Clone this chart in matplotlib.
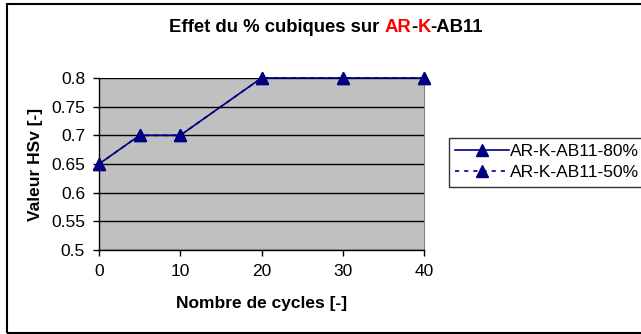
import matplotlib.pyplot as plt
from matplotlib.patches import Rectangle

plt.rcParams['font.family'] = ['Liberation Sans', 'DejaVu Sans']

# Nombre de cycles et valeurs HSv
cycles = [0, 5, 10, 20, 30, 40]
hsv_80 = [0.65, 0.70, 0.70, 0.80, 0.80, 0.80]
hsv_50 = [0.65, 0.70, 0.70, 0.80, 0.80, 0.80]
labels = ['AR-K-AB11-80%', 'AR-K-AB11-50%']
yticks = [0.5, 0.55, 0.6, 0.65, 0.7, 0.75, 0.8]
xticks = [0, 10, 20, 30, 40]

navy = '#000080'
fs = 12.5

fig = plt.figure(figsize=(6.41, 3.34), dpi=100)
ax = fig.add_axes([99 / 641, 1 - 250 / 334, 325 / 641, 172 / 334])
ax.set_facecolor('#C0C0C0')

ax.plot(cycles, hsv_80, color=navy, lw=1.2, marker='^', ms=9, label=labels[0], clip_on=False, zorder=3)
ax.plot(cycles, hsv_50, color=navy, lw=1.2, ls=(0, (2.5, 3)), marker='^', ms=9, label=labels[1],
        clip_on=False, zorder=4)

ax.set_xlim(0, 40)
ax.set_ylim(0.5, 0.8)
ax.set_xticks(xticks)
ax.set_yticks(yticks)
ax.set_yticklabels([f'{v:g}' for v in yticks])
ax.grid(axis='y', color='black', lw=1)
ax.set_axisbelow(True)
ax.tick_params(direction='out', length=4, width=1, labelsize=fs, colors='black', pad=6)

ax.spines['right'].set_color('#808080')
ax.spines['top'].set_visible(False)
ax.spines['left'].set_linewidth(1)
ax.spines['bottom'].set_linewidth(1)

ax.set_xlabel('Nombre de cycles [-]', fontsize=fs, fontweight='bold', labelpad=12)
ax.set_ylabel('Valeur HSv [-]', fontsize=fs, fontweight='bold', labelpad=6)

leg = fig.legend(loc='upper left', bbox_to_anchor=(449 / 641, 1 - 138 / 334), fontsize=fs,
                 frameon=True, fancybox=False, edgecolor='black', handlelength=3.1,
                 borderpad=0.35, labelspacing=0.35, handletextpad=0.05, borderaxespad=0)
leg.get_frame().set_linewidth(1)

# Titre en plusieurs morceaux pour colorer AR et K
parts = [('Effet du % cubiques sur ', 'black'), ('AR', 'red'), ('-', 'black'),
         ('K', 'red'), ('-AB11', 'black')]
fig.canvas.draw()
renderer = fig.canvas.get_renderer()
texts = []
for s, c in parts:
    texts.append(fig.text(0, 0, s, color=c, fontsize=13.3, fontweight='bold', va='center'))
widths = [t.get_window_extent(renderer).width for t in texts]
x = 326 - sum(widths) / 2
for t, w in zip(texts, widths):
    t.set_position((x / 641, 1 - 27 / 334))
    x += w

# Cadre du graphique
fig.patches.append(Rectangle((6.5 / 641, 0.8 / 334), 660 / 641, 329 / 334, transform=fig.transFigure,
                             fill=False, edgecolor='black', lw=1.5))

fig.savefig('out.png', dpi=100)
